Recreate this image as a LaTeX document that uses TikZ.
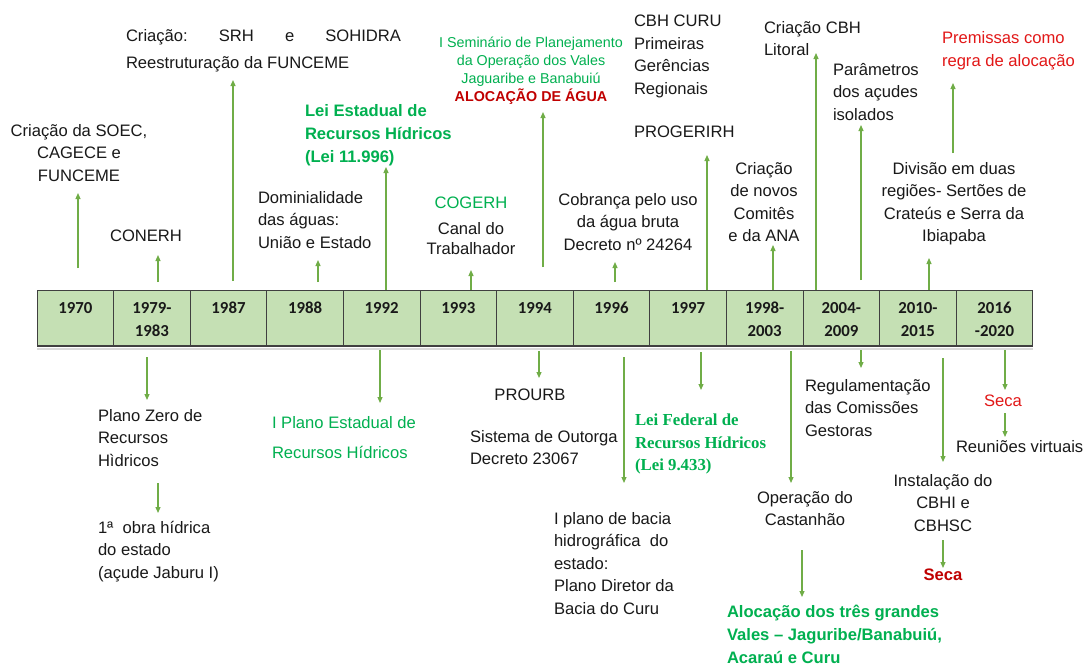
\documentclass[tikz,border=0pt]{standalone}
\usepackage{fontspec}
\setmainfont{Liberation Sans}
\newfontfamily\calfont{Carlito}
\newfontfamily\tnrfont{Liberation Serif}
\usetikzlibrary{arrows.meta}
\definecolor{tgreen}{RGB}{0,176,80}
\definecolor{agreen}{RGB}{112,173,71}
\definecolor{dred}{RGB}{192,0,0}
\definecolor{bred}{RGB}{226,24,24}
\definecolor{tabfill}{RGB}{197,224,180}
\definecolor{tabline}{RGB}{64,64,64}
\definecolor{ink}{RGB}{25,25,25}
\newcommand\garr[4]{\coordinate (#1a) at (#2,#3); \coordinate (#1b) at (#2,#4); \draw[arr] (#1a) -- (#1b);}
\newcommand\yrtop{\rule{0pt}{21pt}}
\begin{document}
\begin{tikzpicture}[x=1pt,y=-1pt,
  txt/.style={inner sep=0, outer sep=0, text=ink, font=\fontsize{16.6}{22.5}\selectfont, execute at begin node={\rule{0pt}{15.75pt}}},
  lt/.style={txt, anchor=north west, align=left},
  ct/.style={txt, anchor=north, align=center},
  cell/.style={draw=tabline, fill=tabfill, line width=1pt, minimum width=76.6pt, minimum height=56pt, inner sep=0, outer sep=0, align=center, text=ink, font=\calfont\bfseries\fontsize{16.8}{23}\selectfont},
  arr/.style={draw=agreen, line width=1.2pt, -{Triangle[length=6pt,width=5pt]}}
]
\useasboundingbox (0,0) rectangle (1085,667);
\fill[white] (0,0) rectangle (1085,667);

% table
\draw[line width=2pt, black!15] (37,349) -- (1033,349);
\node[cell] (c1) at (75.3,318) {\yrtop 1970\\\strut};
\node[cell] (c2) at (151.9,318) {\yrtop 1979-\\\strut1983};
\node[cell] (c3) at (228.5,318) {\yrtop 1987\\\strut};
\node[cell] (c4) at (305.1,318) {\yrtop 1988\\\strut};
\node[cell] (c5) at (381.7,318) {\yrtop 1992\\\strut};
\node[cell] (c6) at (458.3,318) {\yrtop 1993\\\strut};
\node[cell] (c7) at (534.9,318) {\yrtop 1994\\\strut};
\node[cell] (c8) at (611.5,318) {\yrtop 1996\\\strut};
\node[cell] (c9) at (688.1,318) {\yrtop 1997\\\strut};
\node[cell] (c10) at (764.7,318) {\yrtop 1998-\\\strut2003};
\node[cell] (c11) at (841.3,318) {\yrtop 2004-\\\strut2009};
\node[cell] (c12) at (917.9,318) {\yrtop 2010-\\\strut2015};
\node[cell] (c13) at (994.5,318) {\yrtop 2016\\\strut-2020};
\draw[tabline, line width=2.4pt] (c1.south west) -- (c13.south east);

% texts above
\node[ct] (soec) at (79,124) {Criação da SOEC,\\CAGECE e\\FUNCEME};
\node[ct] (conerh) at (146,226) {CONERH};
\node[lt, font=\fontsize{16.6}{27}\selectfont] (srh) at (126,29) {\hbox to 275pt{Criação:\hfill SRH\hfill e\hfill SOHIDRA}\\Reestruturação da FUNCEME};
\node[lt] (domin) at (258,191) {Dominialidade\\das águas:\\União e Estado};
\node[lt, text=tgreen, font=\bfseries\fontsize{16.6}{23}\selectfont] (leiest) at (305,104) {Lei Estadual de\\Recursos Hídricos\\(Lei 11.996)};
\node[ct, text=tgreen] (cogerh) at (471,193) {COGERH};
\node[ct, font=\fontsize{16.6}{20}\selectfont] (canal) at (471,222) {Canal do\\Trabalhador};
\node[ct, text=tgreen, font=\fontsize{14.3}{18}\selectfont] (semin) at (531,37) {I Seminário de Planejamento\\da Operação dos Vales\\Jaguaribe e Banabuiú\\\textcolor{dred}{\bfseries ALOCAÇÃO DE ÁGUA}};
\node[ct] (cobr) at (628,193) {Cobrança pelo uso\\da água bruta\\Decreto nº 24264};
\node[lt, font=\fontsize{16.6}{22.7}\selectfont] (cbh) at (634,15) {CBH CURU\\Primeiras\\Gerências\\Regionais};
\node[lt] (progerirh) at (634,122) {PROGERIRH};
\node[ct] (novos) at (764,162) {Criação\\de novos\\Comitês\\e da ANA};
\node[lt] (litoral) at (764,21) {Criação CBH\\Litoral};
\node[lt] (param) at (833,63) {Parâmetros\\dos açudes\\isolados};
\node[lt, text=bred, font=\fontsize{16.6}{23}\selectfont] (premis) at (942,31) {Premissas como\\regra de alocação};
\node[ct] (divis) at (954,162) {Divisão em duas\\regiões- Sertões de\\Crateús e Serra da\\Ibiapaba};

% texts below
\node[lt] (plano0) at (98,409) {Plano Zero de\\Recursos\\Hìdricos};
\node[lt] (obra) at (98,521) {1ª\ \ obra hídrica\\do estado\\(açude Jaburu I)};
\node[lt, text=tgreen, font=\fontsize{16.6}{30}\selectfont] (plest) at (272,416) {I Plano Estadual de\\Recursos Hídricos};
\node[ct] (prourb) at (530,385) {PROURB};
\node[lt] (outorga) at (470,430) {Sistema de Outorga\\Decreto 23067};
\node[lt, text=tgreen, font=\tnrfont\bfseries\fontsize{16.8}{22.5}\selectfont] (leifed) at (635,414) {Lei Federal de\\Recursos Hídricos\\(Lei 9.433)};
\node[lt] (bacia) at (554,512) {I plano de bacia\\hidrográfica\ \ do\\estado:\\Plano Diretor da\\Bacia do Curu};
\node[ct] (castan) at (805,491) {Operação do\\Castanhão};
\node[lt, text=tgreen, font=\bfseries\fontsize{16.6}{23}\selectfont] (aloc) at (727,605) {Alocação dos três grandes\\Vales – Jaguribe/Banabuiú,\\Acaraú e Curu};
\node[lt] (regul) at (805,379) {Regulamentação\\das Comissões\\Gestoras};
\node[ct, text=bred] (seca1) at (1003,391) {Seca};
\node[lt] (reun) at (956,437) {Reuniões virtuais};
\node[ct] (instal) at (943,474) {Instalação do\\CBHI e\\CBHSC};
\node[ct, text=dred, font=\bfseries\fontsize{16.6}{22.5}\selectfont] (seca2) at (943,565) {Seca};

% arrows up
\garr{u1}{78}{268}{193}
\garr{u2}{158}{282}{255}
\garr{u3}{233}{281}{80}
\garr{u4}{318}{282}{260}
\garr{u5}{386}{290}{167}
\garr{u6}{471}{290}{270}
\garr{u7}{543}{267}{112}
\garr{u8}{615}{282}{262}
\garr{u9}{707}{290}{155}
\garr{u10}{773}{290}{245}
\garr{u11}{816}{290}{53}
\garr{u12}{861}{280}{125}
\garr{u13}{929}{290}{258}
\garr{u14}{953}{153}{83}
% arrows down
\garr{d1}{147}{357}{400}
\garr{d2}{158}{483}{513}
\garr{d3}{380}{350}{403}
\garr{d4}{539}{351}{378}
\garr{d5}{624}{357}{483}
\garr{d6}{701}{352}{390}
\garr{d7}{791}{351}{483}
\garr{d8}{802}{550}{597}
\garr{d9}{861}{350}{368}
\garr{d10}{943}{358}{462}
\garr{d11}{943}{540}{568}
\garr{d12}{1005}{350}{390}
\garr{d13}{1005}{413}{437}
\end{tikzpicture}
\end{document}
